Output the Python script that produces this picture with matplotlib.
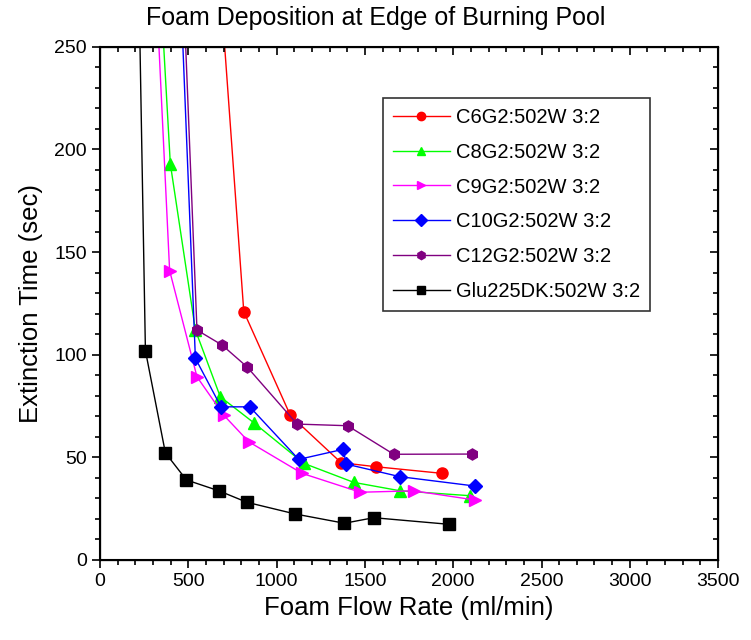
import matplotlib
matplotlib.use("Agg")
import matplotlib.pyplot as plt
from matplotlib.ticker import MultipleLocator

plt.rcParams['font.family'] = ['Liberation Sans', 'DejaVu Sans']

# data (first point of each series sits above the plot range)
c6_x = [664, 814, 1078, 1365, 1565, 1937]
c6_y = [300, 121, 70.4, 47.4, 45.4, 42.2]

c8_x = [328, 398, 540, 681, 870, 1153, 1437, 1700, 2097]
c8_y = [300, 193, 112, 79.5, 66.9, 47.1, 37.8, 33.7, 31.3]

c9_x = [306, 394, 549, 700, 842, 1144, 1474, 1776, 2125]
c9_y = [300, 141, 89.2, 70.6, 57.6, 42.2, 33.0, 33.7, 29.2]

c10_x = [446, 540, 685, 848, 1125, 1376, 1395, 1697, 2125]
c10_y = [300, 98.2, 74.6, 74.6, 49.0, 53.9, 46.7, 40.6, 36.0]

c12_x = [462, 549, 691, 832, 1116, 1402, 1663, 2106]
c12_y = [300, 112, 104.7, 94.1, 66.2, 65.4, 51.5, 51.6]

glu_x = [216, 257, 370, 489, 676, 832, 1106, 1384, 1550, 1974]
glu_y = [300, 102, 52.2, 39.0, 33.6, 28.1, 22.4, 17.9, 20.6, 17.4]

series = [
    ("C6G2:502W 3:2", c6_x, c6_y, "#FF0000", "o"),
    ("C8G2:502W 3:2", c8_x, c8_y, "#00FF00", "^"),
    ("C9G2:502W 3:2", c9_x, c9_y, "#FF00FF", ">"),
    ("C10G2:502W 3:2", c10_x, c10_y, "#0000FF", "D"),
    ("C12G2:502W 3:2", c12_x, c12_y, "#800080", "h"),
    ("Glu225DK:502W 3:2", glu_x, glu_y, "#000000", "s"),
]

fig = plt.figure(figsize=(7.51, 6.4), dpi=100)
ax = fig.add_axes([0.1332, 0.125, 0.823, 0.802])

for label, xs, ys, col, mk in series:
    ms = 7.5 if mk == "D" else 8
    ax.plot(xs, ys, color=col, marker=mk, markersize=ms, linewidth=1.0,
            label=label, clip_on=True)

ax.set_xlim(0, 3500)
ax.set_ylim(0, 250)
ax.xaxis.set_major_locator(MultipleLocator(500))
ax.xaxis.set_minor_locator(MultipleLocator(100))
ax.yaxis.set_major_locator(MultipleLocator(50))
ax.yaxis.set_minor_locator(MultipleLocator(10))
ax.tick_params(which='major', direction='out', length=6, width=1.2, labelsize=14)
ax.tick_params(which='minor', direction='out', length=3.5, width=1.2)

for s in ax.spines.values():
    s.set_linewidth(1.5)

# mirrored inward ticks on top and right
axt = ax.twiny()
axt.set_xlim(ax.get_xlim())
axt.xaxis.set_major_locator(MultipleLocator(500))
axt.xaxis.set_minor_locator(MultipleLocator(100))
axt.tick_params(which='both', direction='in', labeltop=False, width=1.2)
axt.tick_params(which='major', length=6)
axt.tick_params(which='minor', length=3.5)
axr = ax.twinx()
axr.set_ylim(ax.get_ylim())
axr.yaxis.set_major_locator(MultipleLocator(50))
axr.yaxis.set_minor_locator(MultipleLocator(10))
axr.tick_params(which='both', direction='in', labelright=False, width=1.2)
axr.tick_params(which='major', length=6)
axr.tick_params(which='minor', length=3.5)

ax.set_xlabel("Foam Flow Rate (ml/min)", fontsize=18.5, labelpad=4)
ax.set_ylabel("Extinction Time (sec)", fontsize=18.5, labelpad=8)
fig.text(0.5, 1 - 18 / 640, "Foam Deposition at Edge of Burning Pool",
         fontsize=18, ha='center', va='center')

leg = ax.legend(loc='upper left', bbox_to_anchor=(0.458, 0.9), fontsize=14.5,
                frameon=True, fancybox=False, edgecolor='black',
                handlelength=2.8, markerscale=0.75, labelspacing=0.78,
                borderpad=0.5, handletextpad=0.3, borderaxespad=0)
leg.get_frame().set_linewidth(1.2)

fig.savefig("out.png", dpi=100)
plt.close(fig)
